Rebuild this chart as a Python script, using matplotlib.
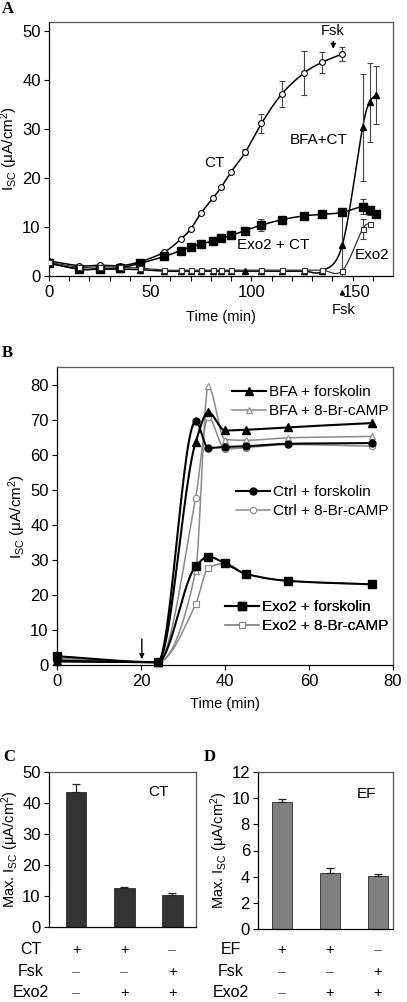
import numpy as np
import matplotlib
matplotlib.use("Agg")
import matplotlib.pyplot as plt
from matplotlib.lines import Line2D
from matplotlib.transforms import blended_transform_factory, ScaledTranslation

plt.rcParams['font.family'] = ['Liberation Sans', 'DejaVu Sans']
plt.rcParams['mathtext.fontset'] = 'custom'
plt.rcParams['mathtext.rm'] = 'Liberation Sans'
plt.rcParams['mathtext.it'] = 'Liberation Sans:italic'
plt.rcParams['mathtext.bf'] = 'Liberation Sans:bold'

# ---------------- Panel A data ----------------
t_ct = [0, 15, 25, 35, 45, 57, 65, 70, 75, 81, 85, 90, 97, 105, 115, 126, 135, 145]
ct = [3.1, 2.1, 2.2, 2.1, 2.9, 4.9, 7.5, 9.6, 12.8, 15.9, 18.1, 21.3, 25.3, 31.2, 37.2, 41.5, 43.7, 45.4]
ct_err = [0, 0, 0, 0, 0, 0, 0, 0, 0, 0, 0, 0, 0.6, 2.0, 2.7, 4.5, 2.2, 1.5]

t_exo2ct = [0, 15, 25, 35, 45, 57, 65, 70, 75, 81, 85, 90, 97, 105, 115, 126, 135, 145, 155, 158.5, 161.5]
exo2ct = [2.6, 1.4, 1.5, 1.65, 2.6, 4.0, 5.2, 6.0, 6.5, 7.2, 7.7, 8.3, 9.3, 10.4, 11.5, 12.3, 12.6, 13.0, 14.2, 13.4, 12.7]
exo2ct_err = [0, 0, 0, 0, 0, 0, 0, 0, 0, 0, 0, 0, 0, 1.3, 0, 0, 0, 0, 1.5, 1.0, 0]

t_bfact = [0, 15, 25, 35, 45, 57, 65, 70, 75, 81, 85, 90, 97, 105, 115, 126, 135, 145, 155, 158.5, 161.5]
bfact = [2.7, 1.4, 1.4, 1.4, 1.3, 1.0, 1.0, 1.0, 1.0, 1.0, 1.0, 1.0, 1.0, 1.0, 1.0, 1.0, 1.0, 6.4, 30.4, 35.5, 37.0]
bfact_err = [0, 0, 0, 0, 0, 0, 0, 0, 0, 0, 0, 0, 0, 0, 0, 0, 0, 6.5, 11.0, 8.0, 6.0]

t_exo2 = [0, 15, 25, 35, 45, 57, 65, 70, 75, 81, 85, 90, 105, 115, 126, 135, 145, 155, 158.5]
exo2 = [2.8, 1.8, 1.9, 1.8, 1.6, 1.2, 1.2, 1.2, 1.2, 1.2, 1.2, 1.2, 1.2, 1.2, 1.2, 1.2, 1.1, 9.6, 10.6]
exo2_err = [0, 0, 0, 0, 0, 0, 0, 0, 0, 0, 0, 0, 0, 0, 0, 0, 0, 2.0, 0]

# ---------------- Panel B data ----------------
t_b = [0, 24, 33, 36, 40, 45, 55, 75]
bfa_fsk = [1.0, 0.8, 63.5, 72.1, 66.9, 67.1, 67.8, 69.0]
bfa_camp = [1.5, 0.8, 26.7, 79.5, 64.3, 64.1, 64.8, 65.2]
ctrl_fsk = [1.2, 0.8, 69.5, 61.9, 62.2, 62.4, 63.1, 63.3]
ctrl_camp = [1.8, 0.8, 47.6, 70.7, 61.6, 62.0, 62.9, 62.4]
exo2_fsk = [2.5, 0.8, 28.1, 30.9, 29.0, 26.0, 24.0, 23.0]
exo2_camp = [2.0, 0.8, 17.3, 27.6, 29.0, 26.0, 24.0, 23.0]

# ---------------- Panel C / D data ----------------
c_vals = [43.5, 12.5, 10.5]
c_err = [2.5, 0.4, 0.6]
d_vals = [9.7, 4.3, 4.05]
d_err = [0.25, 0.4, 0.15]
c_rows = ['CT', 'Fsk', 'Exo2']
d_rows = ['EF', 'Fsk', 'Exo2']
signs = [['+', '+', '–'], ['–', '–', '+'], ['–', '+', '+']]

W, H = 407, 1002
fig = plt.figure(figsize=(W / 100, H / 100), dpi=100)


def pos(l, r, t, b):
    return [l / W, 1 - b / H, (r - l) / W, (b - t) / H]


def smooth(x, y, sx, sy, n=24):
    """Bezier smoothing through the points (spreadsheet-style smoothed line)."""
    P = np.column_stack([np.asarray(x, float) * sx, np.asarray(y, float) * sy])
    out = []
    for i in range(len(P) - 1):
        p0 = P[i - 1] if i > 0 else P[i]
        p1, p2 = P[i], P[i + 1]
        p3 = P[i + 2] if i + 2 < len(P) else P[i + 1]
        c1 = p1 + (p2 - p0) / 6
        c2 = p2 - (p3 - p1) / 6
        t = np.linspace(0, 1, n)[:, None]
        seg = (1 - t) ** 3 * p1 + 3 * (1 - t) ** 2 * t * c1 + 3 * (1 - t) * t ** 2 * c2 + t ** 3 * p2
        out.append(seg if i == 0 else seg[1:])
    Q = np.vstack(out)
    return Q[:, 0] / sx, Q[:, 1] / sy


def pchip(x, y, n=30):
    """Monotone cubic curve through the points."""
    x = np.asarray(x, float)
    y = np.asarray(y, float)
    h = np.diff(x)
    d = np.diff(y) / h
    m = np.zeros_like(y)
    m[0], m[-1] = d[0], d[-1]
    for k in range(1, len(x) - 1):
        if d[k - 1] * d[k] <= 0:
            m[k] = 0.0
        else:
            w1 = 2 * h[k] + h[k - 1]
            w2 = h[k] + 2 * h[k - 1]
            m[k] = (w1 + w2) / (w1 / d[k - 1] + w2 / d[k])
    xs, ys = [], []
    for k in range(len(x) - 1):
        t = np.linspace(0, 1, n)
        if k > 0:
            t = t[1:]
        h00 = 2 * t ** 3 - 3 * t ** 2 + 1
        h10 = t ** 3 - 2 * t ** 2 + t
        h01 = -2 * t ** 3 + 3 * t ** 2
        h11 = t ** 3 - t ** 2
        xs.append(x[k] + t * h[k])
        ys.append(h00 * y[k] + h10 * h[k] * m[k] + h01 * y[k + 1] + h11 * h[k] * m[k + 1])
    return np.concatenate(xs), np.concatenate(ys)


def style_box(ax):
    for s in ['top', 'right']:
        ax.spines[s].set_color('#555555')
    for s in ax.spines.values():
        s.set_linewidth(0.9)


FS_TICK = 12
FS_LAB = 10.5

# ================= Panel A =================
axA = fig.add_axes(pos(49, 393, 21.7, 276))
sxA, syA = 2.02, 4.886
series_A = [
    (t_ct, ct, ct_err, dict(marker='o', ms=4.2, mfc='white', mec='black', mew=0.8), 'black', 1.1),
    (t_exo2ct, exo2ct, exo2ct_err, dict(marker='s', ms=5.2, mfc='black', mec='black'), 'black', 1.1),
    (t_bfact, bfact, bfact_err, dict(marker='^', ms=3.8, mfc='black', mec='black'), 'black', 1.1),
    (t_exo2, exo2, exo2_err, dict(marker='s', ms=3.6, mfc='white', mec='#333333', mew=0.8), '#333333', 0.9),
]
for x, y, e, mk, col, lw in series_A:
    xs, ys = smooth(x, y, sxA, syA)
    axA.plot(xs, ys, color=col, lw=lw, zorder=2)
    xe = [xi for xi, ei in zip(x, e) if ei > 0]
    ye = [yi for yi, ei in zip(y, e) if ei > 0]
    ee = [ei for ei in e if ei > 0]
    axA.errorbar(xe, ye, yerr=ee, fmt='none', ecolor='#444444', elinewidth=0.8, capsize=2.2, capthick=0.8, zorder=3)
    axA.plot(x, y, linestyle='none', zorder=4, **mk)

axA.set_xlim(0, 170)
axA.set_ylim(0, 52)
axA.set_xticks([0, 50, 100, 150])
axA.set_xticks(np.arange(0, 170, 10), minor=True)
axA.set_yticks(np.arange(0, 51, 10))
axA.tick_params(axis='both', which='both', direction='out', length=3.5, width=0.8, labelsize=FS_TICK)
axA.tick_params(axis='x', pad=3)
axA.tick_params(axis='y', pad=2.5)
style_box(axA)
lab150 = axA.get_xticklabels()[3]
lab150.set_transform(lab150.get_transform() + ScaledTranslation(4 / 100, 0, fig.dpi_scale_trans))
axA.set_xlabel('Time (min)', fontsize=FS_LAB, labelpad=7)
axA.set_ylabel(r'I$_{\mathrm{SC}}$ (μA/cm$^{2}$)', fontsize=11, labelpad=1.5)

axA.text(81.7, 23.1, 'CT', fontsize=FS_LAB + 0.5, ha='center', va='center')
axA.text(133.4, 27.8, 'BFA+CT', fontsize=FS_LAB + 0.5, ha='center', va='center')
axA.text(110.9, 6.3, 'Exo2 + CT', fontsize=FS_LAB + 0.5, ha='center', va='center')
axA.text(159.9, 4.3, 'Exo2', fontsize=FS_LAB + 0.5, ha='center', va='center')
axA.text(140.0, 50.0, 'Fsk', fontsize=FS_LAB, ha='center', va='center')
axA.annotate('', xy=(140.5, 45.9), xytext=(140.5, 48.5),
             arrowprops=dict(arrowstyle='-|>', lw=1.0, color='black', mutation_scale=7))
axA.annotate('', xy=(145, -0.042), xytext=(145, -0.088), xycoords=('data', 'axes fraction'),
             textcoords=('data', 'axes fraction'), annotation_clip=False,
             arrowprops=dict(arrowstyle='-|>', lw=1.0, color='black', mutation_scale=7))
axA.text(145.5, -0.134, 'Fsk', transform=blended_transform_factory(axA.transData, axA.transAxes),
         fontsize=FS_LAB, ha='center', va='center')

fig.text(2 / W, 1 - 9 / H, 'A', fontsize=12, fontweight='bold', family='Liberation Serif', va='center', ha='left')

# ================= Panel B =================
axB = fig.add_axes(pos(57, 393, 367, 665))
grey = '#8a8a8a'
series_B = [
    ('BFA + forskolin', bfa_fsk, 'black', 1.5, dict(marker='^', ms=5.2, mfc='black', mec='black')),
    ('BFA + 8-Br-cAMP', bfa_camp, grey, 1.1, dict(marker='^', ms=5.0, mfc='white', mec=grey, mew=0.8)),
    ('Ctrl + forskolin', ctrl_fsk, 'black', 1.5, dict(marker='o', ms=5.0, mfc='black', mec='black')),
    ('Ctrl + 8-Br-cAMP', ctrl_camp, grey, 1.1, dict(marker='o', ms=4.6, mfc='white', mec=grey, mew=0.8)),
    ('Exo2 + forskolin', exo2_fsk, 'black', 1.5, dict(marker='s', ms=5.4, mfc='black', mec='black')),
    ('Exo2 + 8-Br-cAMP', exo2_camp, grey, 1.1, dict(marker='s', ms=4.8, mfc='white', mec=grey, mew=0.8)),
]
handles = []
for name, y, col, lw, mk in series_B:
    xs, ys = pchip(t_b, y)
    z = 3 if col == 'black' else 2
    axB.plot(xs, ys, color=col, lw=lw, zorder=z, clip_on=False)
    axB.plot(t_b, y, linestyle='none', zorder=z + 2, clip_on=False, **mk)
    handles.append(Line2D([], [], color=col, lw=lw, **mk))

axB.set_xlim(0, 80)
axB.set_ylim(0, 85)
axB.set_xticks([0, 20, 40, 60, 80])
axB.set_yticks(np.arange(0, 81, 10))
axB.tick_params(axis='both', direction='out', length=3.5, width=0.8, labelsize=FS_TICK)
axB.tick_params(axis='x', pad=3)
axB.tick_params(axis='y', pad=2.5)
style_box(axB)
axB.set_xlabel('Time (min)', fontsize=FS_LAB, labelpad=6)
axB.set_ylabel(r'I$_{\mathrm{SC}}$ (μA/cm$^{2}$)', fontsize=11, labelpad=1.5)
axB.annotate('', xy=(20.2, 0.9), xytext=(20.2, 8.2),
             arrowprops=dict(arrowstyle='-|>', lw=1.0, color='black', mutation_scale=7))

for k, yfrac in enumerate([0.884, 0.548, 0.162]):
    leg = axB.legend(handles[2 * k:2 * k + 2], [s[0] for s in series_B[2 * k:2 * k + 2]],
                     loc='center right', bbox_to_anchor=(1.0, yfrac), frameon=False,
                     fontsize=FS_LAB + 0.5, handlelength=2.2, handletextpad=0.2,
                     labelspacing=0.35, borderaxespad=0.2, borderpad=0.1)
    axB.add_artist(leg)

fig.text(2 / W, 1 - 353 / H, 'B', fontsize=12, fontweight='bold', family='Liberation Serif', va='center', ha='left')


# ================= Panels C and D =================
def bar_panel(ax, vals, errs, color, xlim, ylim, yticks, label, lab_x, lab_y, rows, row_x):
    x = np.arange(len(vals))
    ax.bar(x, vals, width=0.42, color=color, edgecolor='#2a2a2a', linewidth=0.6, zorder=2)
    ax.errorbar(x, vals, yerr=[np.zeros(len(errs)), errs], fmt='none', ecolor='#222222',
                elinewidth=0.9, capsize=2.8, capthick=0.9, zorder=3)
    ax.set_xlim(*xlim)
    ax.set_ylim(*ylim)
    ax.set_xticks([])
    ax.set_yticks(yticks)
    ax.tick_params(axis='y', direction='out', length=3.5, width=0.8, labelsize=FS_TICK, pad=2.5)
    style_box(ax)
    ax.text(lab_x, lab_y, label, fontsize=FS_LAB + 0.5, ha='center', va='center')
    ax.set_ylabel(r'Max. I$_{\mathrm{SC}}$ (μA/cm$^{2}$)', fontsize=10.5, labelpad=1)
    tr = blended_transform_factory(ax.transData, fig.transFigure)
    for r, (rname, ry) in enumerate(zip(rows, [950, 971.7, 992.7])):
        yf = 1 - ry / H
        fig.text(row_x / W, yf, rname, fontsize=FS_LAB + 1, ha='center', va='center')
        for j in range(3):
            s = signs[r][j]
            ax.text(x[j], yf, s, transform=tr, fontsize=FS_LAB, ha='center', va='center',
                    color='black' if s == '+' else '#666666')


axC = fig.add_axes(pos(49, 196, 771.7, 927.3))
bar_panel(axC, c_vals, c_err, '#333333', (-0.57, 2.49), (0, 50), np.arange(0, 51, 10),
          'CT', 1.7, 43.5, c_rows, 31)
axD = fig.add_axes(pos(258.3, 392.7, 771.7, 929.3))
bar_panel(axD, d_vals, d_err, '#808080', (-0.49, 2.31), (0, 12), np.arange(0, 13, 2),
          'EF', 1.77, 10.3, d_rows, 231)

fig.text(3 / W, 1 - 757 / H, 'C', fontsize=12, fontweight='bold', family='Liberation Serif', va='center', ha='left')
fig.text(204 / W, 1 - 757 / H, 'D', fontsize=12, fontweight='bold', family='Liberation Serif', va='center', ha='left')

fig.savefig('out.png', dpi=100)
